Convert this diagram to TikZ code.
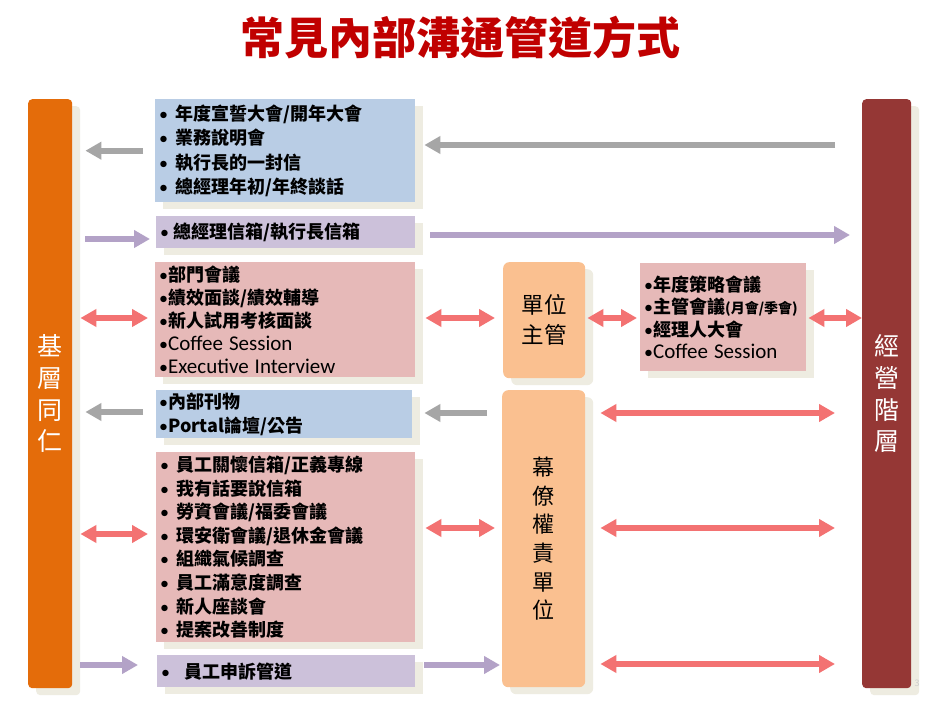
\documentclass[tikz,border=0pt]{standalone}
\usepackage{fontspec}
\setmainfont{Noto Sans CJK TC}
\newfontfamily\carlito{Carlito}
\usetikzlibrary{arrows.meta,shadows}
\definecolor{orangebar}{HTML}{E46C0A}
\definecolor{redbar}{HTML}{953735}
\definecolor{lblue}{HTML}{B9CDE5}
\definecolor{lpurple}{HTML}{CCC1DA}
\definecolor{lpink}{HTML}{E6B9B8}
\definecolor{peach}{HTML}{FAC090}
\definecolor{shadowc}{HTML}{EEECE1}
\definecolor{grayarr}{HTML}{A6A6A6}
\definecolor{purarr}{HTML}{B3A2C7}
\definecolor{pinkarr}{HTML}{F37272}
\definecolor{titlered}{HTML}{C00000}
\newcommand\mybul{{\carlito\mdseries •}}
\newcommand\latinpart[1]{{\carlito\mdseries\fontsize{21}{22}\selectfont #1}}
\begin{document}
\begin{tikzpicture}[x=1pt,y=-1pt,
  sh/.style={drop shadow={shadow xshift=8pt,shadow yshift=-7pt,fill=shadowc,opacity=1}},
  listbox/.style={sh,rectangle,anchor=north west,inner xsep=4pt,inner ysep=0pt,align=left,
    font=\bfseries\fontsize{18}{24.5}\selectfont},
  bar/.style={sh,rectangle,rounded corners=4pt,anchor=north west,inner sep=0pt,align=center,
    text=white,font=\fontsize{25}{31.7}\selectfont,minimum width=44pt,minimum height=589pt},
  unitbox/.style={sh,rectangle,rounded corners=6pt,anchor=north west,inner sep=0pt,align=center,fill=peach},
  garrow/.style={draw=grayarr,line width=6pt,-{Triangle[length=16pt,width=17pt]}},
  parrow/.style={draw=purarr,line width=6pt,-{Triangle[length=16pt,width=17pt]}},
  darrow/.style={draw=pinkarr,line width=6pt,{Triangle[length=16pt,width=17pt]}-{Triangle[length=16pt,width=17pt]}}
]
\fill[white] (0,0) rectangle (943,708);
\useasboundingbox (0,0) rectangle (943,708);

\node[font=\bfseries\fontsize{44}{50}\selectfont,text=titlered] (title) at (460,38) {常見內部溝通管道方式};

% side bars
\node[bar,fill=orangebar] (L) at (28,99) {基\\層\\同\\仁};
\node[bar,fill=redbar,minimum width=49pt] (R) at (862,99) {經\\營\\階\\層};
\node[text=gray!40,font=\fontsize{9}{10}\selectfont,inner sep=0pt] (pg) at (917,683) {3};

% left column boxes
\node[listbox,fill=lblue,minimum width=260pt,text width=252pt,minimum height=103pt] (b1) at (155,99)
{\mybul\hspace{7pt}年度宣誓大會/開年大會\\\mybul\hspace{7pt}業務說明會\\\mybul\hspace{7pt}執行長的一封信\\\mybul\hspace{7pt}總經理年初/年終談話};

\node[listbox,fill=lpurple,minimum width=259pt,text width=251pt,minimum height=32pt] (u1) at (156,216)
{\mybul\hspace{4pt}總經理信箱/執行長信箱};

\node[listbox,fill=lpink,minimum width=260pt,text width=252pt,minimum height=115pt,
  font=\bfseries\fontsize{18}{22.8}\selectfont] (p1) at (155,262)
{\mybul 部門會議\\\mybul 績效面談/績效輔導\\\mybul 新人試用考核面談\\\mybul\latinpart{Coffee Session}\\\mybul\latinpart{Executive Interview}};

\node[listbox,fill=lblue,minimum width=256pt,text width=250pt,inner xsep=3pt,minimum height=48pt,
  font=\bfseries\fontsize{18}{24}\selectfont] (b2) at (156,390)
{\mybul 內部刊物\\\mybul Portal論壇/公告};

\node[listbox,fill=lpink,minimum width=259pt,text width=251pt,minimum height=190pt,
  font=\bfseries\fontsize{18}{23.6}\selectfont] (p2) at (156,452)
{\mybul\hspace{7pt}員工關懷信箱/正義專線\\\mybul\hspace{7pt}我有話要說信箱\\\mybul\hspace{7pt}勞資會議/福委會議\\\mybul\hspace{7pt}環安衛會議/退休金會議\\\mybul\hspace{7pt}組織氣候調查\\\mybul\hspace{7pt}員工滿意度調查\\\mybul\hspace{7pt}新人座談會\\\mybul\hspace{7pt}提案改善制度};

\node[listbox,fill=lpurple,minimum width=258pt,text width=250pt,minimum height=32pt] (u2) at (157,655)
{\mybul\hspace{14pt}員工申訴管道};

% middle units
\node[unitbox,minimum width=82pt,minimum height=116pt,font=\fontsize{22.5}{30}\selectfont] (dz) at (503,262) {單位\\主管};
\node[unitbox,minimum width=83pt,minimum height=297pt,font=\fontsize{22}{28.7}\selectfont] (mk) at (502,390) {幕\\僚\\權\\責\\單\\位};

% right list box
\node[listbox,fill=lpink,minimum width=166pt,text width=158pt,minimum height=108pt,
  font=\bfseries\fontsize{18}{22.3}\selectfont] (p3) at (640,263)
{\mybul 年度策略會議\\\mybul 主管會議{\fontsize{14}{16}\selectfont(月會/季會)}\\\mybul 經理人大會\\\mybul\latinpart{Coffee Session}};

% arrows
\draw[garrow,shorten <=12pt,shorten >=13pt] (b1.west) -- (L.east |- b1.west);
\draw[garrow,shorten <=27pt,shorten >=9pt] (R.west |- 0,145) -- (b1.east |- 0,145);
\draw[parrow,shorten <=13pt,shorten >=6pt] (L.east |- 0,239) -- (u1.west |- 0,239);
\draw[parrow,shorten <=15pt,shorten >=12pt] (u1.east |- 0,235) -- (R.west |- 0,235);

\draw[darrow,shorten <=8pt,shorten >=7pt] (L.east |- 0,318) -- (p1.west |- 0,318);
\draw[darrow,shorten <=10pt,shorten >=8pt] (p1.east |- 0,318) -- (dz.west |- 0,318);
\draw[darrow,shorten <=2pt,shorten >=3pt] (dz.east |- 0,318) -- (p3.west |- 0,318);
\draw[darrow,shorten <=2pt,shorten >=0pt] (p3.east |- 0,318) -- (R.west |- 0,318);

\draw[garrow,shorten <=13pt,shorten >=13pt] (b2.west |- 0,412) -- (L.east |- 0,412);
\draw[garrow,shorten <=15pt,shorten >=12pt] (mk.west |- 0,413) -- (b2.east |- 0,413);
\draw[darrow,shorten <=15pt,shorten >=27pt] (mk.east |- 0,413) -- (R.west |- 0,413);

\draw[darrow,shorten <=8pt,shorten >=8pt] (L.east |- 0,534) -- (p2.west |- 0,534);
\draw[darrow,shorten <=10pt,shorten >=7pt] (p2.east |- 0,528) -- (mk.west |- 0,528);
\draw[darrow,shorten <=15pt,shorten >=27pt] (mk.east |- 0,528) -- (R.west |- 0,528);

\draw[parrow,shorten <=8pt,shorten >=19pt] (L.east |- 0,665) -- (u2.west |- 0,665);
\draw[parrow,shorten <=9pt,shorten >=2pt] (u2.east |- 0,665) -- (mk.west |- 0,665);
\draw[darrow,shorten <=15pt,shorten >=27pt] (mk.east |- 0,664) -- (R.west |- 0,664);
\end{tikzpicture}
\end{document}
